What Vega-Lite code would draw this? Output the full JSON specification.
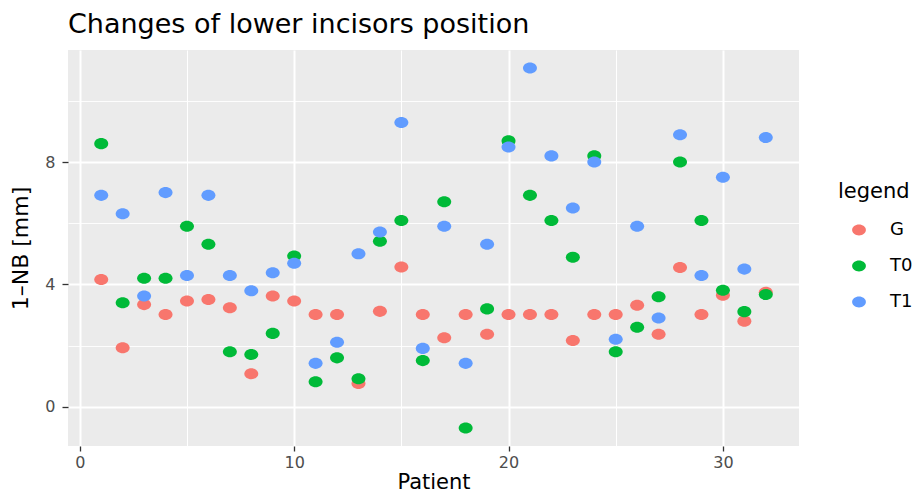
{
  "$schema": "https://vega.github.io/schema/vega-lite/v6.json",
  "width": 731,
  "height": 396,
  "autosize": "none",
  "padding": {"left": 68, "top": 50, "right": 120, "bottom": 51},
  "background": "white",
  "title": {"text": "Changes of lower incisors position", "anchor": "start", "frame": "group", "fontSize": 27, "fontWeight": "normal", "font": "DejaVu Sans", "color": "black", "offset": 11},
  "config": {
    "view": {"fill": "#EBEBEB", "stroke": null},
    "font": "DejaVu Sans",
    "axis": {"domain": false, "gridColor": "white", "tickColor": "#333333", "tickWidth": 1.3, "labelColor": "#4D4D4D", "labelFontSize": 16, "titleFontSize": 21, "titleFontWeight": "normal", "titleColor": "black"}
  },
  "data": {"values": [
    {"patient": 1, "legend": "G", "value": 4.16}, {"patient": 1, "legend": "T0", "value": 8.6}, {"patient": 1, "legend": "T1", "value": 6.91},
    {"patient": 2, "legend": "G", "value": 1.93}, {"patient": 2, "legend": "T0", "value": 3.4}, {"patient": 2, "legend": "T1", "value": 6.31},
    {"patient": 3, "legend": "G", "value": 3.34}, {"patient": 3, "legend": "T0", "value": 4.2}, {"patient": 3, "legend": "T1", "value": 3.62},
    {"patient": 4, "legend": "G", "value": 3.02}, {"patient": 4, "legend": "T0", "value": 4.2}, {"patient": 4, "legend": "T1", "value": 7.0},
    {"patient": 5, "legend": "G", "value": 3.46}, {"patient": 5, "legend": "T0", "value": 5.9}, {"patient": 5, "legend": "T1", "value": 4.29},
    {"patient": 6, "legend": "G", "value": 3.51}, {"patient": 6, "legend": "T0", "value": 5.31}, {"patient": 6, "legend": "T1", "value": 6.91},
    {"patient": 7, "legend": "G", "value": 3.24}, {"patient": 7, "legend": "T0", "value": 1.8}, {"patient": 7, "legend": "T1", "value": 4.29},
    {"patient": 8, "legend": "G", "value": 1.08}, {"patient": 8, "legend": "T0", "value": 1.71}, {"patient": 8, "legend": "T1", "value": 3.79},
    {"patient": 9, "legend": "G", "value": 3.62}, {"patient": 9, "legend": "T0", "value": 2.4}, {"patient": 9, "legend": "T1", "value": 4.38},
    {"patient": 10, "legend": "G", "value": 3.46}, {"patient": 10, "legend": "T0", "value": 4.93}, {"patient": 10, "legend": "T1", "value": 4.69},
    {"patient": 11, "legend": "G", "value": 3.02}, {"patient": 11, "legend": "T0", "value": 0.82}, {"patient": 11, "legend": "T1", "value": 1.42},
    {"patient": 12, "legend": "G", "value": 3.02}, {"patient": 12, "legend": "T0", "value": 1.6}, {"patient": 12, "legend": "T1", "value": 2.11},
    {"patient": 13, "legend": "G", "value": 0.76}, {"patient": 13, "legend": "T0", "value": 0.92}, {"patient": 13, "legend": "T1", "value": 5.0},
    {"patient": 14, "legend": "G", "value": 3.12}, {"patient": 14, "legend": "T0", "value": 5.41}, {"patient": 14, "legend": "T1", "value": 5.71},
    {"patient": 15, "legend": "G", "value": 4.57}, {"patient": 15, "legend": "T0", "value": 6.09}, {"patient": 15, "legend": "T1", "value": 9.29},
    {"patient": 16, "legend": "G", "value": 3.02}, {"patient": 16, "legend": "T0", "value": 1.51}, {"patient": 16, "legend": "T1", "value": 1.91},
    {"patient": 17, "legend": "G", "value": 2.26}, {"patient": 17, "legend": "T0", "value": 6.7}, {"patient": 17, "legend": "T1", "value": 5.9},
    {"patient": 18, "legend": "G", "value": 3.02}, {"patient": 18, "legend": "T0", "value": -0.69}, {"patient": 18, "legend": "T1", "value": 1.42},
    {"patient": 19, "legend": "G", "value": 2.37}, {"patient": 19, "legend": "T0", "value": 3.2}, {"patient": 19, "legend": "T1", "value": 5.31},
    {"patient": 20, "legend": "G", "value": 3.02}, {"patient": 20, "legend": "T0", "value": 8.69}, {"patient": 20, "legend": "T1", "value": 8.49},
    {"patient": 21, "legend": "G", "value": 3.02}, {"patient": 21, "legend": "T0", "value": 6.91}, {"patient": 21, "legend": "T1", "value": 11.07},
    {"patient": 22, "legend": "G", "value": 3.02}, {"patient": 22, "legend": "T0", "value": 6.09}, {"patient": 22, "legend": "T1", "value": 8.2},
    {"patient": 23, "legend": "G", "value": 2.17}, {"patient": 23, "legend": "T0", "value": 4.89}, {"patient": 23, "legend": "T1", "value": 6.5},
    {"patient": 24, "legend": "G", "value": 3.02}, {"patient": 24, "legend": "T0", "value": 8.2}, {"patient": 24, "legend": "T1", "value": 8.0},
    {"patient": 25, "legend": "G", "value": 3.02}, {"patient": 25, "legend": "T0", "value": 1.8}, {"patient": 25, "legend": "T1", "value": 2.21},
    {"patient": 26, "legend": "G", "value": 3.32}, {"patient": 26, "legend": "T0", "value": 2.6}, {"patient": 26, "legend": "T1", "value": 5.9},
    {"patient": 27, "legend": "G", "value": 2.37}, {"patient": 27, "legend": "T0", "value": 3.6}, {"patient": 27, "legend": "T1", "value": 2.9},
    {"patient": 28, "legend": "G", "value": 4.55}, {"patient": 28, "legend": "T0", "value": 8.0}, {"patient": 28, "legend": "T1", "value": 8.89},
    {"patient": 29, "legend": "G", "value": 3.02}, {"patient": 29, "legend": "T0", "value": 6.09}, {"patient": 29, "legend": "T1", "value": 4.29},
    {"patient": 30, "legend": "G", "value": 3.65}, {"patient": 30, "legend": "T0", "value": 3.81}, {"patient": 30, "legend": "T1", "value": 7.5},
    {"patient": 31, "legend": "G", "value": 2.8}, {"patient": 31, "legend": "T0", "value": 3.11}, {"patient": 31, "legend": "T1", "value": 4.5},
    {"patient": 32, "legend": "G", "value": 3.74}, {"patient": 32, "legend": "T0", "value": 3.67}, {"patient": 32, "legend": "T1", "value": 8.8}
  ]},
  "mark": {"type": "point", "filled": true, "opacity": 1, "size": 196, "shape": "M-1,0A1,0.79,0,1,1,1,0A1,0.79,0,1,1,-1,0Z"},
  "encoding": {
    "x": {"field": "patient", "type": "quantitative", "title": "Patient",
      "scale": {"domain": [-0.55, 33.55], "nice": false, "zero": false},
      "axis": {"values": [0, 5, 10, 15, 20, 25, 30],
        "labelExpr": "datum.value % 10 === 0 ? datum.label : ''",
        "gridWidth": {"condition": {"test": "datum.value % 10 === 0", "value": 2}, "value": 1},
        "tickOpacity": {"condition": {"test": "datum.value % 10 === 0", "value": 1}, "value": 0},
        "tickSize": 5, "labelPadding": 3, "titlePadding": 1}},
    "y": {"field": "value", "type": "quantitative", "title": "1–NB [mm]",
      "scale": {"domain": [-1.28, 11.66], "nice": false, "zero": false},
      "axis": {"values": [0, 2, 4, 6, 8, 10],
        "labelExpr": "datum.value % 4 === 0 ? datum.label : ''",
        "gridWidth": {"condition": {"test": "datum.value % 4 === 0", "value": 1.8}, "value": 0.9},
        "tickOpacity": {"condition": {"test": "datum.value % 4 === 0", "value": 1}, "value": 0},
        "tickSize": 6, "labelPadding": 7, "titlePadding": 12, "titleFontSize": 22}},
    "color": {"field": "legend", "type": "nominal",
      "scale": {"domain": ["G", "T0", "T1"], "range": ["#F8766D", "#00BA38", "#619CFF"]},
      "legend": {"orient": "none", "legendX": 770, "legendY": 131, "title": "legend", "titleFontSize": 21, "titleFontWeight": "normal", "titleColor": "black", "labelFontSize": 18, "labelColor": "black", "symbolType": "M-1,0A1,0.79,0,1,1,1,0A1,0.79,0,1,1,-1,0Z", "symbolSize": 190, "rowPadding": 18, "titlePadding": 19, "labelOffset": 22, "symbolOffset": 12}}
  }
}
